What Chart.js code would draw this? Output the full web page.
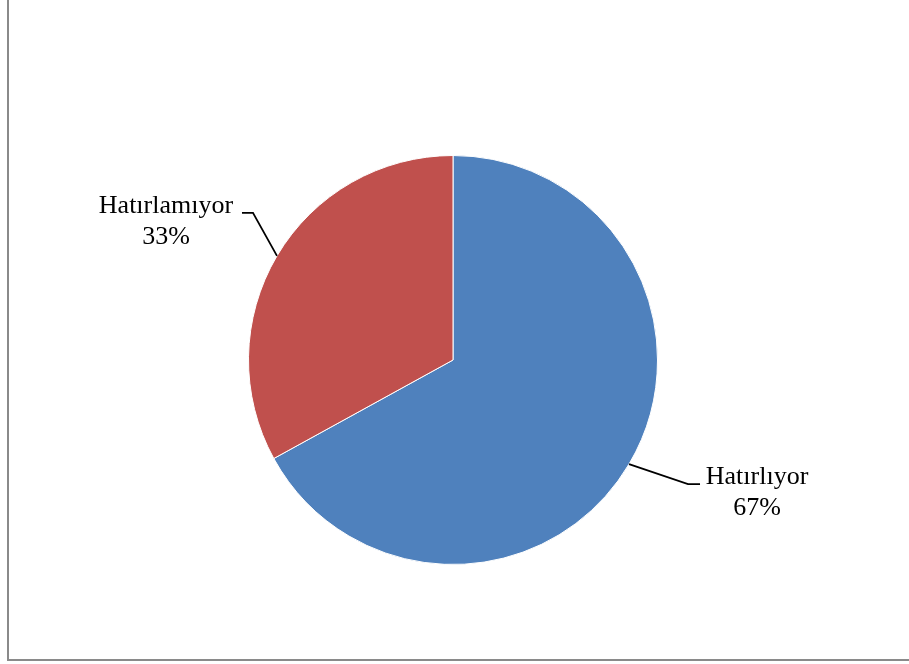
<!DOCTYPE html>
<html>
<head>
<meta charset="utf-8">
<script src="https://cdn.jsdelivr.net/npm/chart.js@4.4.1/dist/chart.umd.min.js"></script>
<style>
  html, body { margin: 0; padding: 0; background: #ffffff; }
  #wrap { position: relative; width: 909px; height: 664px; }
</style>
</head>
<body>
<div id="wrap"><canvas id="pie" width="909" height="664"></canvas></div>
<script>
// Survey answers and their shares (percent)
const categories = ['Hatırlıyor', 'Hatırlamıyor'];
const shares = [67, 33];
const sliceColors = ['#4F81BD', '#C0504D'];

// Where each callout sits relative to the slice edge point (elbow, line end, text block)
const callouts = [
  { elbow: [59, 20], end: [71, 20], textX: 128, baseline: 20 },
  { elbow: [-24, -43], end: [-35, -43], textX: -111, baseline: -43 }
];

const FONT = '26px "Liberation Serif", "Times New Roman", serif';

const framePlugin = {
  id: 'frame',
  beforeDraw(chart) {
    const ctx = chart.ctx;
    ctx.save();
    ctx.fillStyle = '#ffffff';
    ctx.fillRect(0, 0, chart.width, chart.height);
    ctx.strokeStyle = '#8a8a8a';
    ctx.lineWidth = 2;
    ctx.strokeRect(8, -20, chart.width + 40, 680);
    ctx.restore();
  }
};

const calloutPlugin = {
  id: 'callouts',
  afterDatasetsDraw(chart) {
    const ctx = chart.ctx;
    const meta = chart.getDatasetMeta(0);
    ctx.save();
    meta.data.forEach((arc, i) => {
      const p = arc.getProps(['x', 'y', 'startAngle', 'endAngle', 'outerRadius'], true);
      const mid = (p.startAngle + p.endAngle) / 2;
      const sx = p.x + Math.cos(mid) * p.outerRadius;
      const sy = p.y + Math.sin(mid) * p.outerRadius;
      const c = callouts[i];
      ctx.strokeStyle = '#000000';
      ctx.lineWidth = 1.8;
      ctx.beginPath();
      ctx.moveTo(sx, sy);
      ctx.lineTo(sx + c.elbow[0], sy + c.elbow[1]);
      ctx.lineTo(sx + c.end[0], sy + c.end[1]);
      ctx.stroke();

      ctx.fillStyle = '#000000';
      ctx.font = FONT;
      ctx.textAlign = 'center';
      ctx.textBaseline = 'alphabetic';
      const tx = sx + c.textX;
      const ty = sy + c.baseline;
      ctx.fillText(chart.data.labels[i], tx, ty);
      ctx.fillText(chart.data.datasets[0].data[i] + '%', tx, ty + 31);
    });
    ctx.restore();
  }
};

new Chart(document.getElementById('pie'), {
  type: 'pie',
  data: {
    labels: categories,
    datasets: [{
      data: shares,
      backgroundColor: sliceColors,
      borderColor: '#ffffff',
      borderWidth: 1
    }]
  },
  options: {
    responsive: false,
    animation: false,
    rotation: 0,
    layout: { padding: { top: 155, bottom: 99, left: 0, right: 3 } },
    plugins: {
      legend: { display: false },
      tooltip: { enabled: false }
    }
  },
  plugins: [framePlugin, calloutPlugin]
});
</script>
</body>
</html>
